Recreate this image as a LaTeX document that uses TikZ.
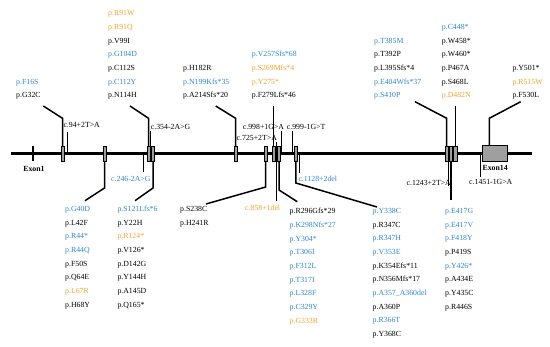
\documentclass[tikz,border=0pt]{standalone}
\usepackage{fontspec}
\setmainfont{Liberation Serif}
\definecolor{blu}{RGB}{46,134,208}
\definecolor{org}{RGB}{245,162,45}
\definecolor{blk}{RGB}{0,0,0}
\newcommand\mutstack[4]{\foreach \tx/\cl [count=\i from 1] in {#4}{\node[lab,text=\cl] (#1\i) at (#2,{#3+13.65*(\i-1)}) {\tx};}}
\begin{document}
\begin{tikzpicture}[x=1pt,y=-1pt,
 lab/.style={anchor=base west,inner sep=0pt,font=\fontsize{7.8}{9}\selectfont},
 exlab/.style={anchor=base,inner sep=0pt,font=\fontsize{7.8}{9}\selectfont\bfseries},
 bone/.style={line width=2.2pt},
 conn/.style={line width=1.5pt},
 site/.style={line width=0.8pt},
 exonbox/.style={draw=black,fill=gray!75,line width=0.6pt,inner sep=0pt,outer sep=0pt,minimum height=15pt,minimum width=3.4pt},
 exonone/.style={fill=black,inner sep=0pt,outer sep=0pt,minimum height=15pt,minimum width=2pt}]
\useasboundingbox (0,0) rectangle (550,347);

% backbone
\coordinate (L) at (11,153.5); \coordinate (R) at (532,153.5);
\draw[bone] (L) -- (R);

% splice-site markers
\coordinate (m94t) at (67.5,132);   \coordinate (m94b) at (67.5,153.5);
\coordinate (m354t) at (150.2,131); \coordinate (m354b) at (150.2,153.5);
\coordinate (m246t) at (143.7,153.5); \coordinate (m246b) at (143.7,172);
\coordinate (m725t) at (276.4,142); \coordinate (m725b) at (276.4,153.5);
\coordinate (m998t) at (281.7,131.5); \coordinate (m998b) at (281.7,153.5);
\coordinate (m999t) at (292.7,131.5); \coordinate (m999b) at (292.7,153.5);
\coordinate (m858t) at (276.4,153.5); \coordinate (m858b) at (276.4,201);
\coordinate (m1128t) at (299.4,153.5); \coordinate (m1128b) at (299.4,173);
\coordinate (m1243t) at (448.8,153.5); \coordinate (m1243b) at (448.8,186);
\coordinate (m1451t) at (480,153.5); \coordinate (m1451b) at (480,177);
\foreach \m in {94,354,246,725,998,999,858,1128,1243,1451}
  \draw[site] (m\m t) -- (m\m b);

% exons
\node[exonone] (e1) at (33.3,153.5) {};
\node[exonbox,minimum width=2.6pt] (e2) at (62.5,153.5) {};
\node[exonbox] (e3) at (104.5,153.5) {};
\node[exonbox,minimum width=3.2pt] (e4) at (148.5,153.5) {};
\node[exonbox] (e5) at (153,153.5) {};
\node[exonbox] (e6) at (235.6,153.5) {};
\node[exonbox] (e7) at (265.7,153.5) {};
\node[exonbox] (e8) at (273.7,153.5) {};
\node[exonbox] (e9) at (279,153.5) {};
\node[exonbox,minimum width=3.7pt] (e10) at (295.9,153.5) {};
\node[exonbox] (e11) at (446.7,153.5) {};
\node[exonbox] (e12) at (450.8,153.5) {};
\node[exonbox] (e13) at (455.3,153.5) {};
\node[exonbox,minimum width=25pt,minimum height=16pt] (e14) at (495.2,153.7) {};

\node[exlab] (x1) at (34,171.7) {Exon1};
\node[exlab] (x14) at (495.2,170.7) {Exon14};

% splice labels
\node[lab] (c94) at (63.3,127.7) {c.94+2T>A};
\node[lab] (c354) at (150.7,129.4) {c.354-2A>G};
\node[lab] (c998) at (242.7,129.4) {c.998+1G>A};
\node[lab] (c999) at (286.7,129.4) {c.999-1G>T};
\node[lab] (c725) at (236.5,141) {c.725+2T>A};
\node[lab,text=blu] (c246) at (111,181.5) {c.246-2A>G};
\node[lab,text=org] (c858) at (245,211) {c.858+1del};
\node[lab,text=blu] (c1128) at (298.3,181.5) {c.1128+2del};
\node[lab,anchor=base east] (c1243) at (451,185.2) {c.1243+2T>A};
\node[lab] (c1451) at (469,185) {c.1451-1G>A};

% top connectors
\coordinate (ktop) at (0,118.3);
\coordinate (t1) at (43.3,106);
\coordinate (t2) at (130,106);
\coordinate (t3) at (215.7,106);
\coordinate (t4) at (273.7,106);
\coordinate (t5) at (415,101.7);
\coordinate (t6) at (455.3,106);
\coordinate (t7) at (520.7,101.7);
\coordinate (e14c) at (489.3,145.7);
\draw[conn] (t1) -- (e2.north |- ktop) -- (e2.north);
\draw[conn] (t2) -- (e4.north |- ktop) -- (e4.north);
\draw[conn] (t3) -- (e6.north |- ktop) -- (e6.north);
\draw[conn] (t4) -- (e8.north);
\draw[conn] (t5) -- (e11.north |- ktop) -- (e11.north);
\draw[conn] (t6) -- (e13.north);
\draw[conn] (t7) -- (e14c |- ktop) -- (e14c);

% bottom connectors
\coordinate (k3) at (104.5,188);  \coordinate (b1) at (85,200.7);
\coordinate (k5) at (153,188);    \coordinate (b2) at (135,200.7);
\coordinate (k7) at (265.7,187);  \coordinate (b3) at (206,204);
\coordinate (k9) at (279,190);    \coordinate (b4) at (297.3,201.7);
\coordinate (k10) at (295.9,183); \coordinate (b5) at (377,207);
\coordinate (b6) at (450.8,200);
\draw[conn] (e3.south) -- (k3) -- (b1);
\draw[conn] (e5.south) -- (k5) -- (b2);
\draw[conn] (e7.south) -- (k7) -- (b3);
\draw[conn] (e9.south) -- (k9) -- (b4);
\draw[conn] (e10.south) -- (k10) -- (b5);
\draw[conn] (e12.south) -- (b6);

% top label stacks
\mutstack{ga}{16}{84.05}{p.F16S/blu,p.G32C/blk}
\mutstack{gb}{108}{15.8}{p.R91W/org,p.R91Q/org,p.V99I/blk,p.G104D/blu,p.C112S/blk,p.C112Y/blu,p.N114H/blk}
\mutstack{gc}{183}{70.4}{p.H182R/blk,p.N199Kfs*35/blu,p.A214Sfs*20/blk}
\mutstack{gd}{251.7}{56.75}{p.V257Sfs*68/blu,p.S269Mfs*4/org,p.Y275*/org,p.F279Lfs*46/blk}
\mutstack{ge}{374}{43.1}{p.T385M/blu,p.T392P/blk,p.L395Sfs*4/blk,p.E404Wfs*37/blu,p.S410P/blu}
\mutstack{gf}{441.7}{29.45}{p.C448*/blu,p.W458*/blk,p.W460*/blk,p.P467A/blk,p.S468L/blk,p.D482N/org}
\mutstack{gg}{512.3}{70.4}{p.Y501*/blk,p.R515W/org,p.F530L/blk}

% bottom label stacks
\mutstack{ha}{65}{211.7}{p.G40D/blu,p.L42F/blk,p.R44*/blu,p.R44Q/blu,p.F50S/blk,p.Q64E/blk,p.L67R/org,p.H68Y/blk}
\mutstack{hb}{117.3}{211.7}{p.S121Lfs*6/blu,p.Y22H/blk,p.R124*/org,p.V126*/blk,p.D142G/blk,p.Y144H/blk,p.A145D/blk,p.Q165*/blk}
\mutstack{hc}{180}{211.7}{p.S238C/blk,p.H241R/blk}
\mutstack{hd}{289.5}{213.9}{p.R296Gfs*29/blk,p.K298Nfs*27/blu,p.Y304*/blu,p.T306I/blu,p.F312L/blu,p.T317I/blu,p.L328F/blu,p.C329Y/blu,p.G333R/org}
\mutstack{he}{372.5}{213.7}{p.Y338C/blu,p.R347C/blk,p.R347H/blu,p.V353E/blu,p.K354Efs*11/blk,p.N356Mfs*17/blk,p.A357\_A360del/blu,p.A360P/blk,p.R366T/blu,p.Y368C/blk}
\mutstack{hf}{445}{213.7}{p.E417G/blu,p.E417V/blu,p.F418Y/blu,p.P419S/blk,p.Y426*/blu,p.A434E/blk,p.Y435C/blk,p.R446S/blk}
\end{tikzpicture}
\end{document}
